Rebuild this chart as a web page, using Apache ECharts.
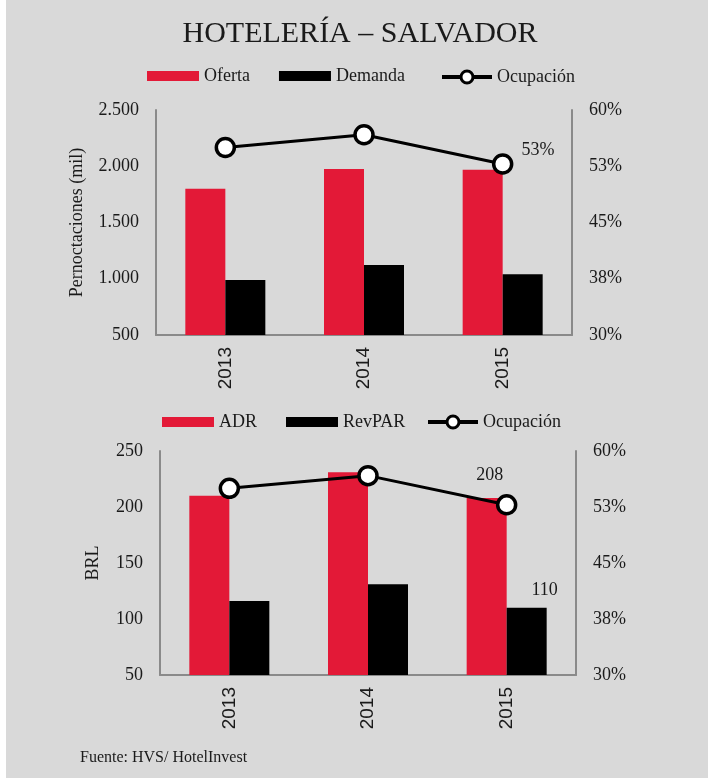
<!DOCTYPE html>
<html>
<head>
<meta charset="utf-8">
<script src="https://cdn.jsdelivr.net/npm/echarts@6/dist/echarts.min.js"></script>
<style>
  html, body { margin: 0; padding: 0; background: #ffffff; }
  #chart { position: absolute; left: 6px; top: 0; width: 702px; height: 778px; }
</style>
</head>
<body>
<div id="chart"></div>
<script>
// Hotel market indicators, Salvador
const years = ['2013', '2014', '2015'];

// Overnight stays (thousands)
const oferta = [1800, 1975, 1968];
const demanda = [990, 1122, 1040];

// Average daily rate and revenue per available room (BRL)
const adr = [210, 231, 208];
const revpar = [116, 131, 110];

// Occupancy rate (%)
const ocupacion = [55.0, 56.7, 52.8];

const leftTicksTop = { min: 500, max: 2500, interval: 500 };
const leftTicksBottom = { min: 50, max: 250, interval: 50 };
const pctTicks = { min: 30, max: 60, interval: 7.5 };

const RED = '#e31937';
const INK = '#1a1a1a';
const AXIS = '#8a8a8a';
const SERIF = '"Liberation Serif", "DejaVu Serif", serif';

const thousands = v => String(v).replace(/\B(?=(\d{3})+(?!\d))/g, '.');
const pct = v => Math.round(v) + '%';

function yLeft(ticks, name, gap, gridIndex) {
  return {
    type: 'value', gridIndex, position: 'left',
    min: ticks.min, max: ticks.max, interval: ticks.interval,
    name, nameLocation: 'middle', nameGap: gap,
    nameTextStyle: { fontFamily: SERIF, fontSize: 18, color: INK },
    axisLine: { show: true, lineStyle: { color: AXIS, width: 2 } },
    axisTick: { show: false },
    splitLine: { show: false },
    axisLabel: { fontFamily: SERIF, fontSize: 18, color: INK, margin: 17,
      formatter: gridIndex === 0 ? thousands : (v => String(v)) }
  };
}
function yRight(gridIndex) {
  return {
    type: 'value', gridIndex, position: 'right',
    min: pctTicks.min, max: pctTicks.max, interval: pctTicks.interval,
    axisLine: { show: true, lineStyle: { color: AXIS, width: 2 } },
    axisTick: { show: false },
    splitLine: { show: false },
    axisLabel: { fontFamily: SERIF, fontSize: 18, color: INK, margin: 17, formatter: pct }
  };
}
function xCat(gridIndex) {
  return {
    type: 'category', gridIndex, data: years,
    axisLine: { show: true, lineStyle: { color: AXIS, width: 2 } },
    axisTick: { show: false },
    axisLabel: { rotate: 90, margin: 12, fontFamily: '"Liberation Sans", sans-serif',
      fontSize: 19, color: INK }
  };
}
const occupancySeries = (data, xi, yi, labelIdx) => ({
  name: 'Ocupación', type: 'line', data, xAxisIndex: xi, yAxisIndex: yi,
  symbol: 'circle', symbolSize: 18,
  itemStyle: { color: '#ffffff', borderColor: '#000000', borderWidth: 3.5 },
  lineStyle: { color: '#000000', width: 3 },
  label: {
    show: true, position: 'right', offset: [3, -14],
    fontFamily: SERIF, fontSize: 18, color: INK,
    formatter: p => (p.dataIndex === labelIdx ? Math.round(p.value) + '%' : '')
  },
  z: 5
});
const barSeries = (name, data, color, xi, yi, label) => Object.assign({
  name, type: 'bar', data, xAxisIndex: xi, yAxisIndex: yi,
  barWidth: 40, barGap: '0%', itemStyle: { color }
}, label ? { label } : {});
const endLabel = (distance, dx) => ({
  show: true, position: 'top', distance, offset: [dx, 0],
  fontFamily: SERIF, fontSize: 18, color: INK,
  formatter: p => (p.dataIndex === 2 ? String(p.value) : '')
});

const chart = echarts.init(document.getElementById('chart'), null, { renderer: 'canvas' });

const legendText = { fontFamily: SERIF, fontSize: 18, color: INK };
const barLegend = (left, top, names) => ({
  left, top, itemWidth: 52, itemHeight: 10, itemGap: 29, icon: 'rect',
  textStyle: legendText, data: names
});
const lineLegend = (left, top) => ({
  left, top, itemWidth: 50, itemHeight: 15, textStyle: legendText,
  data: [{ name: 'Ocupación', lineStyle: { width: 4 }, itemStyle: { borderWidth: 3 } }]
});

chart.setOption({
  backgroundColor: '#d9d9d9',
  animation: false,
  graphic: [
    { type: 'text', x: 354, y: 34,
      style: { text: 'HOTELERÍA – SALVADOR', font: '30px ' + SERIF, fill: INK,
        textAlign: 'center', textVerticalAlign: 'middle' } },
    { type: 'text', x: 74, y: 758,
      style: { text: 'Fuente: HVS/ HotelInvest', font: '16px ' + SERIF, fill: INK,
        textAlign: 'left', textVerticalAlign: 'middle' } }
  ],
  legend: [
    barLegend(136, 62, ['Oferta', 'Demanda']),
    lineLegend(429, 63),
    barLegend(151, 408, ['ADR', 'RevPAR']),
    lineLegend(415, 408)
  ],
  grid: [
    { left: 150, right: 136, top: 110, height: 225 },
    { left: 154, right: 132, top: 451, height: 224 }
  ],
  xAxis: [xCat(0), xCat(1)],
  yAxis: [
    yLeft(leftTicksTop, 'Pernoctaciones (mil)', 70, 0),
    yRight(0),
    yLeft(leftTicksBottom, 'BRL', 58, 1),
    yRight(1)
  ],
  series: [
    barSeries('Oferta', oferta, RED, 0, 0),
    barSeries('Demanda', demanda, '#000000', 0, 0),
    occupancySeries(ocupacion, 0, 1, 2),
    barSeries('ADR', adr, RED, 1, 2, endLabel(14, 3)),
    barSeries('RevPAR', revpar, '#000000', 1, 2, endLabel(9, 18)),
    occupancySeries(ocupacion, 1, 3, -1)
  ]
});
</script>
</body>
</html>
